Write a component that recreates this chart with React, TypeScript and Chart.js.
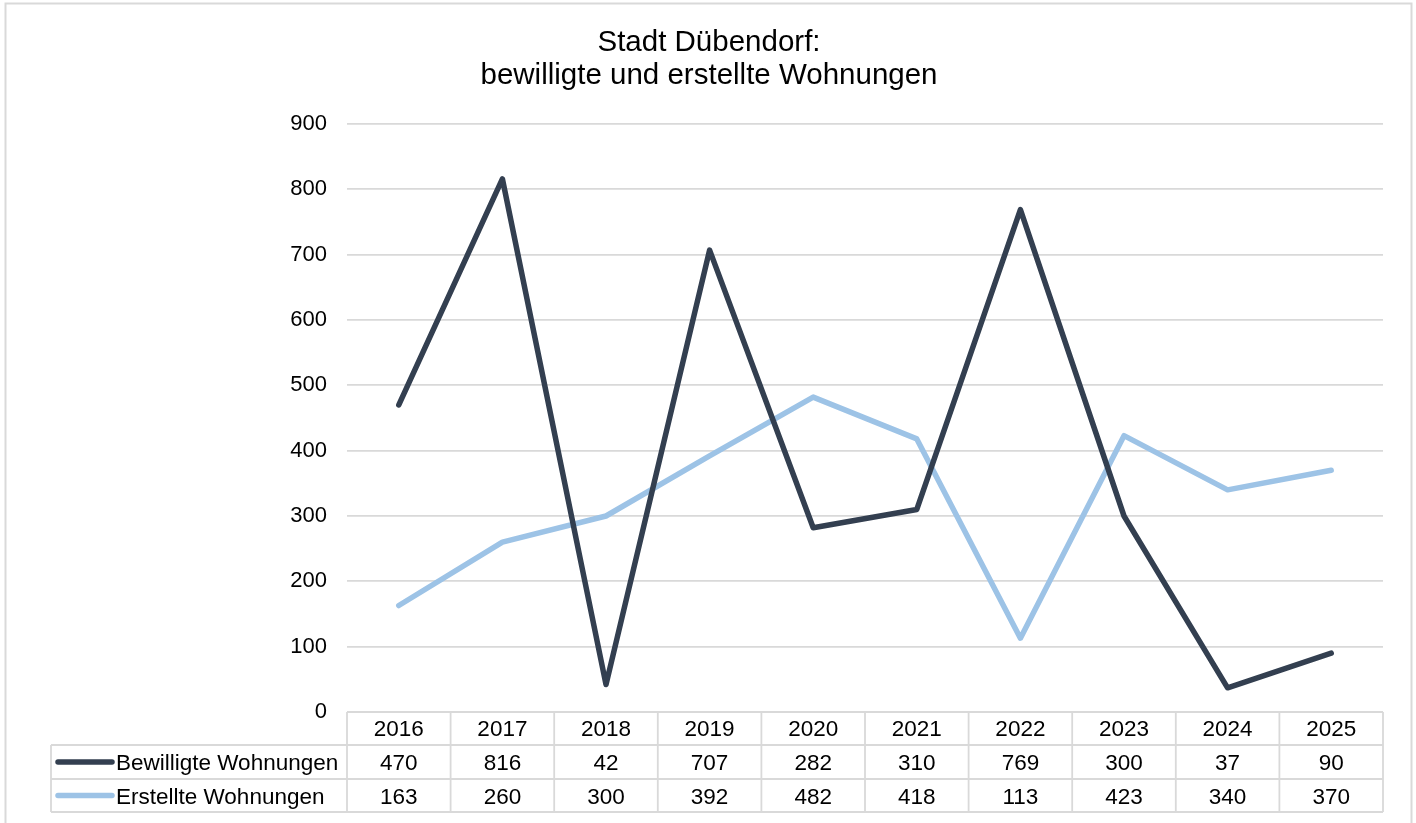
import React, { useEffect, useRef } from "react";
import { Chart, registerables } from "chart.js";

Chart.register(...registerables);

const years = ["2016", "2017", "2018", "2019", "2020", "2021", "2022", "2023", "2024", "2025"];
const bewilligt = [470, 816, 42, 707, 282, 310, 769, 300, 37, 90];
const erstellt = [163, 260, 300, 392, 482, 418, 113, 423, 340, 370];
const seriesNames = ["Bewilligte Wohnungen", "Erstellte Wohnungen"];
const titleLines = ["Stadt Dübendorf:", "bewilligte und erstellte Wohnungen"];

const DARK = "#333f50";
const LIGHT = "#9dc3e6";
const GRID = "#d9d9d9";
const FONT = "'Liberation Sans', Arial, sans-serif";

const W = 1416;
const H = 823;

const tablePlugin = {
  id: "dataTable",
  afterDraw(chart: any) {
    const ctx = chart.ctx as CanvasRenderingContext2D;
    const area = chart.chartArea;
    const xs = chart.scales.x;
    const n = years.length;
    const colW = (area.right - area.left) / n;
    const top = area.bottom;
    const r1 = 745;
    const r2 = 779;
    const r3 = 812;
    const legendLeft = 51;

    ctx.save();
    // outer frame
    ctx.strokeStyle = GRID;
    ctx.lineWidth = 2;
    ctx.beginPath();
    ctx.moveTo(5.5, H);
    ctx.lineTo(5.5, 3.5);
    ctx.lineTo(1411.5, 3.5);
    ctx.lineTo(1411.5, H);
    ctx.stroke();

    // title
    ctx.fillStyle = "#000";
    ctx.font = `29.5px ${FONT}`;
    ctx.textAlign = "center";
    ctx.textBaseline = "alphabetic";
    ctx.fillText(titleLines[0], W / 2 + 1, 51);
    ctx.fillText(titleLines[1], W / 2 + 1, 84);

    // table grid
    ctx.strokeStyle = GRID;
    ctx.lineWidth = 1.8;
    ctx.beginPath();
    ctx.moveTo(area.left, top);
    ctx.lineTo(area.right, top);
    [r1, r2, r3].forEach((y) => {
      ctx.moveTo(legendLeft, y);
      ctx.lineTo(area.right, y);
    });
    ctx.moveTo(legendLeft, r1);
    ctx.lineTo(legendLeft, r3);
    for (let i = 0; i <= n; i++) {
      const x = area.left + i * colW;
      ctx.moveTo(x, top);
      ctx.lineTo(x, r3);
    }
    ctx.stroke();

    // header and values
    ctx.fillStyle = "#000";
    ctx.font = `22.5px ${FONT}`;
    ctx.textAlign = "center";
    ctx.textBaseline = "alphabetic";
    const rowsData = [bewilligt, erstellt];
    years.forEach((yr, i) => {
      const cx = xs.getPixelForValue(i);
      ctx.fillText(yr, cx, 736);
      ctx.fillText(String(rowsData[0][i]), cx, 770);
      ctx.fillText(String(rowsData[1][i]), cx, 804);
    });

    // legend keys
    const colors = [DARK, LIGHT];
    const rowMid = [(r1 + r2) / 2, (r2 + r3) / 2];
    const baselines = [770, 804];
    ctx.lineCap = "round";
    ctx.lineWidth = 5.5;
    for (let k = 0; k < 2; k++) {
      ctx.strokeStyle = colors[k];
      ctx.beginPath();
      ctx.moveTo(58, rowMid[k]);
      ctx.lineTo(112, rowMid[k]);
      ctx.stroke();
      ctx.fillStyle = "#000";
      ctx.textAlign = "left";
      ctx.fillText(seriesNames[k], 116, baselines[k]);
    }
    ctx.restore();
  },
};

export default function App() {
  const ref = useRef<HTMLCanvasElement | null>(null);
  useEffect(() => {
    if (!ref.current) return;
    const chart = new Chart(ref.current, {
      type: "line",
      data: {
        labels: years,
        datasets: [
          {
            label: seriesNames[0],
            data: bewilligt,
            borderColor: DARK,
            backgroundColor: DARK,
            borderWidth: 5.5,
            pointRadius: 0,
            tension: 0,
            borderCapStyle: "round",
            borderJoinStyle: "round",
          },
          {
            label: seriesNames[1],
            data: erstellt,
            borderColor: LIGHT,
            backgroundColor: LIGHT,
            borderWidth: 5.5,
            pointRadius: 0,
            tension: 0,
            borderCapStyle: "round",
            borderJoinStyle: "round",
          },
        ],
      },
      options: {
        responsive: false,
        animation: false,
        devicePixelRatio: 1,
        layout: { padding: { top: 124, bottom: H - 712, left: 0, right: W - 1383 } },
        plugins: {
          legend: { display: false },
          title: { display: false },
          tooltip: { enabled: false },
        },
        scales: {
          x: { display: false, offset: true },
          y: {
            min: 0,
            max: 900,
            ticks: {
              stepSize: 100,
              padding: 20,
              color: "#000",
              font: { family: FONT, size: 22 },
            },
            grid: { drawTicks: false, color: GRID, lineWidth: 1.8 },
            border: { display: false },
            afterFit: (s: any) => {
              s.width = 347;
            },
          },
        },
      },
      plugins: [tablePlugin],
    } as any);
    return () => chart.destroy();
  }, []);
  return (
    <div style={{ position: "fixed", left: 0, top: 0, width: W, height: H, background: "#fff" }}>
      <canvas ref={ref} width={W} height={H} style={{ width: W, height: H, display: "block" }} />
    </div>
  );
}
